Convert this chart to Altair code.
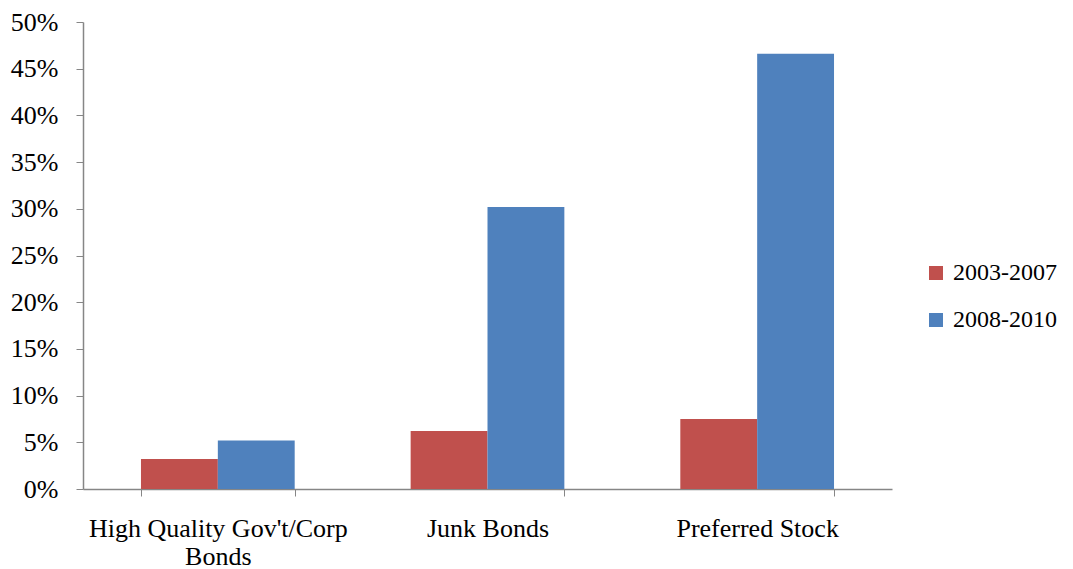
import altair as alt
import pandas as pd

categories = ["High Quality Gov't/Corp|Bonds", "Junk Bonds", "Preferred Stock"]
series = ["2003-2007", "2008-2010"]
values_2003_2007 = [0.032, 0.062, 0.075]
values_2008_2010 = [0.052, 0.302, 0.466]

rows = []
for c, a, b in zip(categories, values_2003_2007, values_2008_2010):
    rows.append({"category": c, "period": series[0], "value": a})
    rows.append({"category": c, "period": series[1], "value": b})
df = pd.DataFrame(rows)

font = "Liberation Serif"
gray = "#868686"
fs = 26

chart = alt.Chart(df).mark_bar().encode(
    x=alt.X("category:N", sort=categories, title=None,
            scale=alt.Scale(paddingInner=0.43, paddingOuter=0.215),
            axis=alt.Axis(labelAngle=0, labelExpr="split(datum.label, '|')",
                          labelFont=font, labelFontSize=fs, labelColor="black",
                          labelLineHeight=28, labelPadding=19, labelLimit=0,
                          tickBand="extent", tickSize=7, tickColor=gray,
                          domainColor=gray, domainWidth=1.5, labelBaseline="top")),
    xOffset=alt.XOffset("period:N", sort=series),
    y=alt.Y("value:Q", title=None,
            scale=alt.Scale(domain=[0, 0.5], nice=False),
            axis=alt.Axis(format=".0%", values=[i * 0.05 for i in range(11)],
                          grid=False, labelFont=font, labelFontSize=fs,
                          labelColor="black", labelPadding=18, tickSize=7,
                          tickColor=gray, domainColor=gray, domainWidth=1.5)),
    color=alt.Color("period:N", sort=series,
                    scale=alt.Scale(domain=series, range=["#C0504D", "#4F81BD"]),
                    legend=alt.Legend(title=None, orient="none", legendX=841, legendY=239,
                                      symbolType="square", symbolSize=196,
                                      symbolStrokeWidth=0, labelFont=font,
                                      labelFontSize=24, labelColor="black",
                                      rowPadding=23, labelOffset=5, labelLimit=0)),
).properties(
    width=809, height=467,
    autosize=alt.AutoSizeParams(type="none"),
    padding={"left": 75, "top": 14, "right": 173, "bottom": 80},
).configure_view(stroke=None)

chart.save("out.html", embed_options={"renderer": "svg", "actions": False})
